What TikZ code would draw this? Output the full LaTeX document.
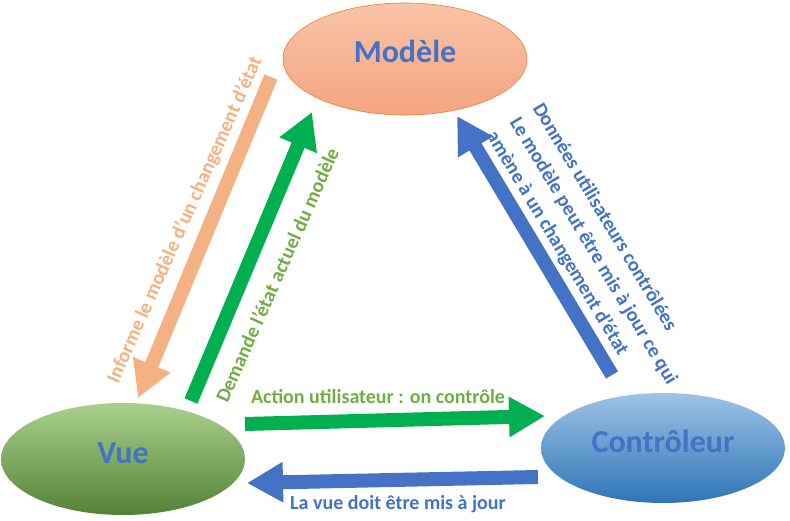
\documentclass[tikz,border=0pt]{standalone}
\usepackage{fontspec}
\setmainfont{Carlito}
\usetikzlibrary{shapes.geometric, arrows.meta}
\definecolor{bleu}{HTML}{4472C4}
\definecolor{peche}{HTML}{F4B183}
\definecolor{vert}{HTML}{00B050}
\definecolor{vertlegende}{HTML}{70AD47}
\definecolor{orangefonce}{HTML}{ED7D31}
\begin{document}
\begin{tikzpicture}[x=1pt, y=1pt,
  bloc/.style={ellipse, minimum width=244, minimum height=112, inner sep=0pt, text=bleu, text height=22pt, text depth=14pt, font=\fontsize{32}{38}\selectfont\bfseries},
  fleche/.style={line width=14pt, -{Triangle[length=36pt, width=38pt]}},
  legende/.style={inner sep=0pt, font=\fontsize{20}{27}\selectfont\bfseries}]
\useasboundingbox (0, 0) rectangle (790, 520);
% Modele, Vue, Controleur
\node [bloc, top color={rgb,255:red,248;green,196;blue,168}, bottom color={rgb,255:red,244;green,164;blue,128}, draw=orangefonce, line width=0.6pt] (modele) at (405, 461) {Modèle};
\node [bloc, top color={rgb,255:red,169;green,209;blue,142}, bottom color={rgb,255:red,84;green,130;blue,53}] (vue) at (123, 61) {Vue};
\node [bloc, minimum height=110, top color={rgb,255:red,157;green,195;blue,230}, bottom color={rgb,255:red,46;green,117;blue,182}] (controleur) at (663, 72) {Contrôleur};
%Text
\node [legende, text=peche, rotate=66] (informe) at (185, 300) {Informe le modèle d’un changement d’état};
\node [legende, text=vertlegende, rotate=66] (demande) at (277, 245) {Demande l’état actuel du modèle};
\node [legende, text=vertlegende, anchor=base] (action) at (378, 117) {Action utilisateur : on contrôle};
\node [legende, text=bleu, anchor=base] (miseajour) at (398, 11) {La vue doit être mis à jour};
\node [legende, text=bleu, rotate=-59, align=left] (donnees) at (593, 269) {Données utilisateurs contrôlées\\Le modèle peut être mis à jour ce qui\\amène à un changement d’état};
% fleches
\coordinate (informeA) at (271, 443);
\coordinate (informeB) at (138, 122);
\coordinate (demandeA) at (191, 119);
\coordinate (demandeB) at (312, 408);
\coordinate (actionA) at (245, 96);
\coordinate (actionB) at (545, 104);
\coordinate (miseajourA) at (538, 43);
\coordinate (miseajourB) at (247, 37);
\coordinate (donneesA) at (612, 145);
\coordinate (donneesB) at (457, 404);
\draw [fleche, peche] (informeA) -- (informeB);
\draw [fleche, vert] (demandeA) -- (demandeB);
\draw [fleche, vert] (actionA) -- (actionB);
\draw [fleche, bleu] (miseajourA) -- (miseajourB);
\draw [fleche, bleu] (donneesA) -- (donneesB);
\end{tikzpicture}
\end{document}
